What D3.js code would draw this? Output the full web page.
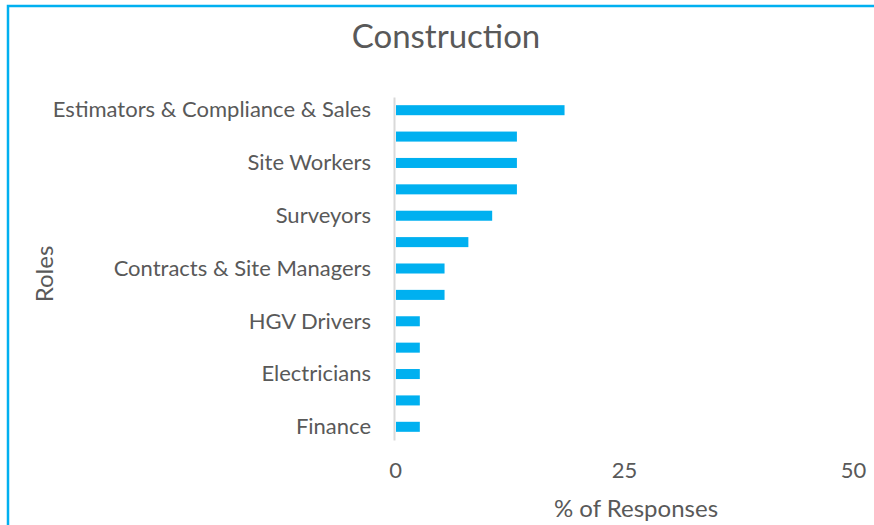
<!DOCTYPE html>
<html>
<head>
<meta charset="utf-8">
<script src="https://cdn.jsdelivr.net/npm/d3@7"></script>
<style>
  body { margin: 0; background: #fff; }
  text { font-family: Lato, "Open Sans", sans-serif; fill: #595959; }
</style>
</head>
<body>
<div id="chart"></div>
<script>
// Roles, top to bottom (Excel only shows every other label)
const roles = [
    "Estimators & Compliance & Sales", "Role 2", "Site Workers", "Role 4",
    "Surveyors", "Role 6", "Contracts & Site Managers", "Role 8",
    "HGV Drivers", "Role 10", "Electricians", "Role 12", "Finance"
];
const responses = [18.4, 13.2, 13.2, 13.2, 10.5, 7.9, 5.3, 5.3, 2.6, 2.6, 2.6, 2.6, 2.6];
const xTicks = [0, 25, 50];

const data = roles.map((r, i) => ({ role: r, value: responses[i] }));

// Dimensions
const W = 874, H = 525;
const plotLeft = 395, plotRight = 853, plotTop = 97, plotBottom = 440;

const svg = d3.select("#chart").append("svg")
    .attr("width", W)
    .attr("height", H);

// selected chart frame
svg.append("rect")
    .attr("x", 8).attr("y", 6)
    .attr("width", W).attr("height", H)
    .attr("fill", "none")
    .attr("stroke", "#00b0f0")
    .attr("stroke-width", 2.5);

const xScale = d3.scaleLinear().domain([0, 50]).range([plotLeft, plotRight]);
const yScale = d3.scaleBand().domain(roles).range([plotTop, plotBottom]).paddingInner(0.62).paddingOuter(0.31);

// bars
svg.selectAll(".bar")
    .data(data)
    .enter()
    .append("rect")
    .attr("class", "bar")
    .attr("x", xScale(0) + 1)
    .attr("y", d => yScale(d.role))
    .attr("width", d => xScale(d.value) - xScale(0))
    .attr("height", yScale.bandwidth())
    .attr("fill", "#00b0f0");

// Y axis (labels only, every other one)
const yAxis = svg.append("g")
    .attr("transform", "translate(" + (plotLeft - 1) + ",0)")
    .call(d3.axisLeft(yScale)
        .tickValues(roles.filter((r, i) => i % 2 === 0))
        .tickSize(0)
        .tickPadding(23));
yAxis.select(".domain").attr("stroke", "#d9d9d9").attr("stroke-width", 2);
yAxis.selectAll("text").style("font-size", "22px").attr("dy", "0.33em");

// X axis (labels only)
const xAxis = svg.append("g")
    .attr("transform", "translate(0," + plotBottom + ")")
    .call(d3.axisBottom(xScale).tickValues(xTicks).tickSize(0).tickPadding(22));
xAxis.select(".domain").remove();
xAxis.selectAll("text").style("font-size", "22px");

// Title
svg.append("text")
    .attr("x", 446)
    .attr("y", 48)
    .attr("text-anchor", "middle")
    .style("font-size", "33px")
    .text("Construction");

// X title
svg.append("text")
    .attr("x", 636)
    .attr("y", 517)
    .attr("text-anchor", "middle")
    .style("font-size", "24px")
    .text("% of Responses");

// Y title
svg.append("text")
    .attr("transform", "translate(53,274) rotate(-90)")
    .attr("text-anchor", "middle")
    .style("font-size", "24px")
    .text("Roles");
</script>
</body>
</html>
